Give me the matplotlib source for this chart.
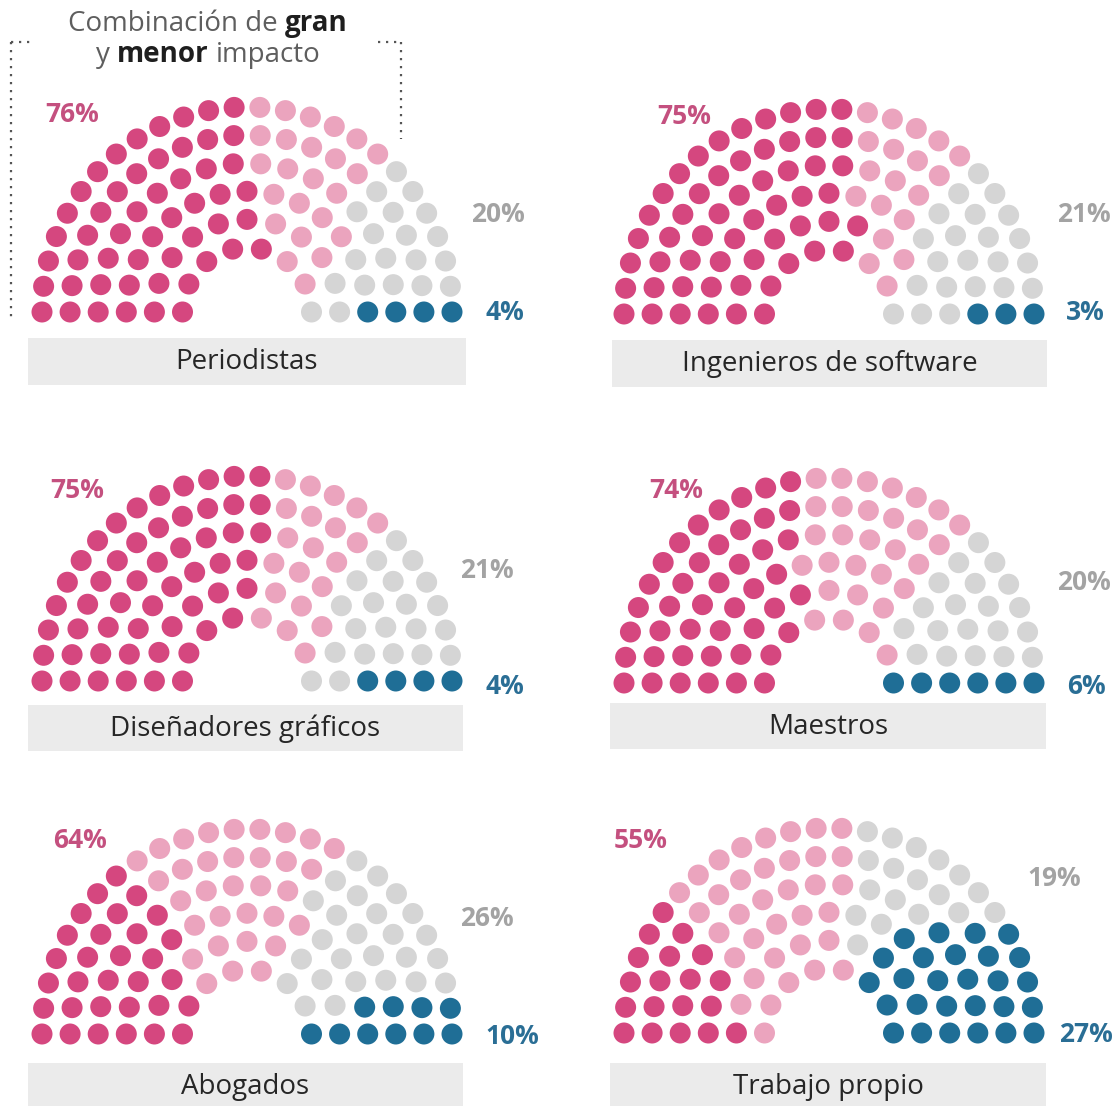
import numpy as np
import matplotlib.pyplot as plt
from matplotlib.patches import Circle, Rectangle
from matplotlib.collections import PatchCollection

plt.rcParams['font.family'] = ['Open Sans', 'DejaVu Sans']

# seats in each ring of the hemicycle, outer ring first
ring_seats = [26, 22, 18, 15, 11, 8]

jobs = ['Periodistas', 'Ingenieros de software', 'Diseñadores gráficos',
        'Maestros', 'Abogados', 'Trabajo propio']
pct_pink = [76, 75, 75, 74, 64, 55]
pct_gray = [20, 21, 21, 20, 26, 19]
pct_blue = [4, 3, 4, 6, 10, 27]

# dots of each colour in every ring (outer -> inner), counted left to right
dark = [[13, 11, 9, 8, 6, 5],
        [14, 12, 10, 8, 7, 5],
        [14, 12, 10, 8, 6, 4],
        [12, 10, 8, 6, 5, 3],
        [8, 7, 6, 5, 3, 2],
        [6, 5, 4, 3, 1, 0]]
light = [[6, 5, 4, 4, 3, 2],
         [5, 4, 3, 3, 2, 2],
         [5, 4, 3, 3, 3, 3],
         [7, 6, 5, 5, 3, 4],
         [9, 7, 5, 5, 4, 3],
         [8, 7, 6, 5, 5, 5]]
gray = [[6, 5, 4, 2, 2, 1],
        [6, 5, 4, 4, 2, 1],
        [6, 5, 4, 3, 2, 1],
        [6, 5, 4, 3, 2, 0],
        [7, 6, 5, 3, 3, 2],
        [7, 5, 3, 2, 1, 0]]
blue = [[1, 1, 1, 1, 0, 0],
        [1, 1, 1, 0, 0, 0],
        [1, 1, 1, 1, 0, 0],
        [1, 1, 1, 1, 1, 1],
        [2, 2, 2, 2, 1, 1],
        [5, 5, 5, 5, 4, 3]]

col_dark, col_light, col_gray, col_blue = '#d5477f', '#eba4be', '#d5d5d5', '#1f6e96'
txt_pink, txt_gray, txt_blue = '#c4507f', '#a3a3a3', '#2a6e95'

# layout in pixels (1120 x 1106)
centers = [(247, 312), (829, 314), (247, 681), (829, 683), (247, 1034), (829, 1033)]
boxes = [(28, 338, 438, 47), (612, 340, 435, 47), (28, 705, 435, 46),
         (610, 703, 436, 46), (28, 1063, 435, 50), (610, 1063, 436, 50)]
pos_pink = [(72, 114), (684, 116), (77, 490), (676, 490), (80, 840), (641, 840)]
pos_gray = [(498, 214), (1084, 215), (487, 570), (1084, 583), (487, 919), (1054, 879)]
pos_blue = [(505, 313), (1085, 313), (505, 686), (1086, 686), (512, 1036), (1086, 1035)]

radii = np.linspace(205, 64.5, 6)
dot_r = 10.5

fig = plt.figure(figsize=(11.2, 11.06), dpi=100)
ax = fig.add_axes([0, 0, 1, 1])
ax.set_xlim(0, 1120)
ax.set_ylim(1106, 0)
ax.set_aspect('equal')
ax.axis('off')

for c in range(6):
    cx, cy = centers[c]
    patches, cols = [], []
    for i, n in enumerate(ring_seats):
        seq = ([col_dark] * dark[c][i] + [col_light] * light[c][i] +
               [col_gray] * gray[c][i] + [col_blue] * blue[c][i])
        ang = np.linspace(0, np.pi, n)
        for k in range(n):
            x = cx - radii[i] * np.cos(ang[k])
            y = cy - radii[i] * np.sin(ang[k])
            patches.append(Circle((x, y), dot_r))
            cols.append(seq[k])
    ax.add_collection(PatchCollection(patches, facecolors=cols, edgecolors='none'))

    bx, by, bw, bh = boxes[c]
    ax.add_patch(Rectangle((bx, by), bw, bh, facecolor='#ebebeb', edgecolor='none'))
    ax.text(bx + bw / 2, by + 24, jobs[c], ha='center', va='center',
            fontsize=20, color='#262626')

    ax.text(*pos_pink[c], f'{pct_pink[c]}%', ha='center', va='center',
            fontsize=19, fontweight='bold', color=txt_pink)
    ax.text(*pos_gray[c], f'{pct_gray[c]}%', ha='center', va='center',
            fontsize=19, fontweight='bold', color=txt_gray)
    ax.text(*pos_blue[c], f'{pct_blue[c]}%', ha='center', va='center',
            fontsize=19, fontweight='bold', color=txt_blue)

# bracket + annotation over the first chart
dot_style = dict(color='#555555', lw=1.6, linestyle=(0, (1, 2.6)), solid_capstyle='round')
ax.plot([11, 11], [42, 322], **dot_style)
ax.plot([11, 34], [42, 42], **dot_style)
ax.plot([401, 401], [42, 139], **dot_style)
ax.plot([378, 401], [42, 42], **dot_style)

fig.canvas.draw()
rend = fig.canvas.get_renderer()


def width(s, weight):
    t = ax.text(0, 0, s, fontsize=20, fontweight=weight)
    w = t.get_window_extent(rend).width
    t.remove()
    return w


space = width('a a', 'normal') - width('aa', 'normal')
title_lines = [(24, [('Combinación de', 'normal', '#5e5e5e'), ('gran', 'bold', '#1e1e1e')]),
               (55, [('y', 'normal', '#5e5e5e'), ('menor', 'bold', '#1e1e1e'),
                     ('impacto', 'normal', '#5e5e5e')])]
for y, parts in title_lines:
    ws = [width(s, wt) for s, wt, _ in parts]
    total = sum(ws) + space * (len(parts) - 1)
    x = 208 - total / 2
    for (s, wt, col), w in zip(parts, ws):
        ax.text(x, y, s, ha='left', va='center', fontsize=20, fontweight=wt, color=col)
        x += w + space

fig.savefig('out.png', dpi=100)
